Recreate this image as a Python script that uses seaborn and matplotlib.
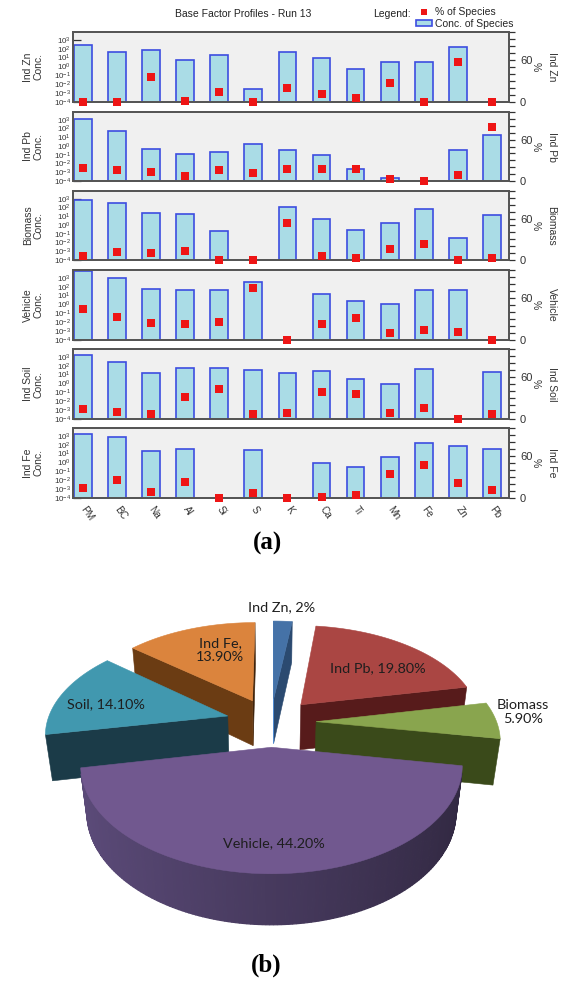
import numpy as np
import pandas as pd
import matplotlib
matplotlib.use("Agg")
import matplotlib.pyplot as plt
from matplotlib.patches import Polygon, Patch
from matplotlib.lines import Line2D
from matplotlib.ticker import LogLocator, NullLocator, MultipleLocator, FixedLocator, LogFormatterSciNotation
import seaborn as sns

sns.set_style("white")
plt.rcParams["font.family"] = ["Liberation Sans", "DejaVu Sans"]

# ---------------------------------------------------------------- data
SPECIES = ["PM", "BC", "Na", "Al", "Si", "S", "K", "Ca", "Ti", "Mn", "Fe", "Zn", "Pb"]
FACTORS = ["Ind Zn", "Ind Pb", "Biomass", "Vehicle", "Ind Soil", "Ind Fe"]
nan = np.nan

# concentration of species per factor (NaN = species absent from the profile)
conc_ind_zn = [260, 41, 70, 5.0, 19, 0.0028, 38, 9.2, 0.55, 3.0, 3.5, 170, nan]
conc_ind_pb = [1150, 49, 0.50, 0.12, 0.23, 1.7, 0.39, 0.10, 0.0022, 0.00022, nan, 0.32, 17]
conc_biomass = [760, 350, 25, 20, 0.23, nan, 100, 4.9, 0.28, 1.7, 72, 0.037, 12.7]
conc_vehicle = [5600, 910, 57, 40, 40, 350, nan, 17, 2.7, 1.26, 48, 40, nan]
conc_ind_soil = [1530, 270, 15.5, 52, 52, 34, 14, 28, 3.0, 0.89, 44, nan, 22]
conc_ind_fe = [1820, 770, 22, 37, nan, 28, nan, 0.97, 0.34, 4.2, 160, 68, 31]

# percentage of each species apportioned to the factor
pct_ind_zn = [0, 0, 35, 1, 14.6, 0, 20.4, 11.2, 5.3, 27.2, 0, 57, 0]
pct_ind_pb = [18.8, 15.5, 13, 7.2, 15.5, 12, 17, 17.9, 17.9, 2.9, 0, 9.2, 78.7]
pct_biomass = [5.7, 11.5, 10, 12.4, 0, 0, 53.6, 5.7, 3.3, 16.3, 22.5, 0, 3.3]
pct_vehicle = [44.3, 32.9, 24.3, 22.4, 25.2, 73.8, 0, 22.4, 31, 10, 14.3, 11, 0]
pct_ind_soil = [13.8, 10, 6.7, 31, 42.4, 6.7, 8.1, 39, 35.7, 8.1, 15.2, 0, 6.7]
pct_ind_fe = [14.3, 26.2, 9, 22.9, 0, 6.7, 0, 1.4, 3.8, 34.3, 47.6, 21.9, 11]

CONC = [conc_ind_zn, conc_ind_pb, conc_biomass, conc_vehicle, conc_ind_soil, conc_ind_fe]
PCT = [pct_ind_zn, pct_ind_pb, pct_biomass, pct_vehicle, pct_ind_soil, pct_ind_fe]

# source contributions for the pie
PIE_SOURCES = ["Ind Zn", "Ind Pb", "Biomass", "Vehicle", "Soil", "Ind Fe"]
PIE_SHARES = [2.0, 19.8, 5.9, 44.2, 14.1, 13.9]
PIE_DECIMALS = [0, 2, 2, 2, 2, 2]

# ---------------------------------------------------------------- figure
W, H = 568, 981
fig = plt.figure(figsize=(W / 100, H / 100), dpi=100)

BAR_FACE = "#aadce6"
BAR_EDGE = "#3d4de0"
MARK_RED = "#ee1515"
FRAME = "#555555"
INK = "#333333"

PANEL_LEFT, PANEL_RIGHT = 73, 509
PANEL_ROWS = [(32, 102), (112, 181), (191, 260), (270, 340), (349, 419), (428, 498)]


def px_axes(left, top, right, bottom, **kw):
    return fig.add_axes([left / W, 1 - bottom / H, (right - left) / W, (bottom - top) / H], **kw)


for k, (factor, conc, pct) in enumerate(zip(FACTORS, CONC, PCT)):
    top, bottom = PANEL_ROWS[k]
    ax = px_axes(PANEL_LEFT, top, PANEL_RIGHT, bottom)
    ax.set_facecolor("#f0f0f0")
    ax.set_yscale("log")
    df = pd.DataFrame({"species": SPECIES, "conc": conc, "pct": pct})
    sns.barplot(data=df.dropna(subset=["conc"]), x="species", y="conc", order=SPECIES,
                ax=ax, width=0.52, color=BAR_FACE, edgecolor=BAR_EDGE, linewidth=1.2,
                saturation=1, errorbar=None)

    ax2 = ax.twinx()
    sns.stripplot(data=df, x="species", y="pct", order=SPECIES, ax=ax2, jitter=False,
                  marker="s", size=5.8, color=MARK_RED, linewidth=0, clip_on=False, zorder=5)

    ax.set_ylim(1e-4, 10 ** 3.88)
    ax2.set_ylim(0, 100)
    ax.set_xlim(-0.29, 12.5)

    # left: log concentration axis
    ax.yaxis.set_major_locator(LogLocator(base=10, numticks=20))
    ax.yaxis.set_minor_locator(NullLocator())
    ax.yaxis.set_major_formatter(LogFormatterSciNotation())
    ax.tick_params(axis="y", which="major", direction="in", length=6, width=0.9,
                   colors=INK, labelsize=5.8, pad=1.5)
    ax.set_ylabel(f"{factor}\nConc.", fontsize=7.5, color=INK, labelpad=7, linespacing=1.15)

    # right: percentage axis
    ax2.yaxis.set_major_locator(FixedLocator([0, 60]))
    ax2.yaxis.set_minor_locator(MultipleLocator(10))
    ax2.tick_params(axis="y", which="major", direction="out", length=4, width=0.9,
                    colors=INK, labelsize=8, pad=4)
    ax2.tick_params(axis="y", which="minor", direction="out", length=4, width=0.9, colors=INK)
    ax2.set_ylabel(f"{factor}\n%", rotation=270, fontsize=7.5, color=INK,
                   labelpad=8, linespacing=1.75, va="center")

    for a in (ax, ax2):
        for sp in a.spines.values():
            sp.set_color(FRAME)
            sp.set_linewidth(1.3)
    ax.set_xlabel("")

    if k < len(FACTORS) - 1:
        ax.tick_params(axis="x", length=0, labelbottom=False)
    else:
        ax.tick_params(axis="x", direction="out", length=4, width=0.9, colors=INK,
                       labelsize=7.2, pad=3)
        for lab in ax.get_xticklabels():
            lab.set_rotation(-55)
            lab.set_ha("left")
            lab.set_va("center")
            lab.set_rotation_mode("anchor")

    if k == 0:
        bar_handle = Patch(facecolor=BAR_FACE, edgecolor=BAR_EDGE, linewidth=1.2)
        mark_handle = Line2D([], [], marker="s", linestyle="none", markersize=5,
                             markerfacecolor=MARK_RED, markeredgewidth=0)

# header: title and legend
fig.text(243 / W, 1 - 14 / H, "Base Factor Profiles - Run 13", ha="center", va="center",
         fontsize=7.5, color="#222222")
fig.text(373 / W, 1 - 14 / H, "Legend:", ha="left", va="center", fontsize=7.5, color="#222222")
fig.legend(handles=[mark_handle, bar_handle], labels=["% of Species", "Conc. of Species"],
           loc="upper left", bbox_to_anchor=(416 / W, 1 - 7 / H), frameon=False,
           fontsize=7.5, handlelength=1.5, handleheight=0.55, handletextpad=0.3,
           labelspacing=0.15, borderpad=0, borderaxespad=0)

# ---------------------------------------------------------------- 3D exploded pie
pie_ax = fig.add_axes([0, 0, 1, 1], zorder=-1)
pie_ax.set_xlim(0, W)
pie_ax.set_ylim(H, 0)
pie_ax.axis("off")

TOP_COLORS = ["#4572a7", "#aa4643", "#89a54e", "#71588f", "#4198af", "#db843d"]
SIDE_COLORS = ["#3d6aa0", "#5c1d1d", "#374619", "#473a5e", "#1d3f4c", "#5a3210"]

ELEV = np.deg2rad(32.5)
CA, SA = np.cos(ELEV), np.sin(ELEV)
DIST, FOCAL = 5.25, 948.0
CX, CY = 271.0, 722.0
THICK, EXPLODE = 0.31, 0.25
CAM = np.array([0.0, DIST * SA, -DIST * CA])


def project(pts):
    pts = np.asarray(pts, float)
    X, Y, Z = pts[:, 0], pts[:, 1], pts[:, 2]
    yc = Y * CA + Z * SA
    zc = DIST + Z * CA - Y * SA
    return np.column_stack([CX + FOCAL * X / zc, CY - FOCAL * yc / zc])


def shaded(color, nx):
    rgb = np.array(matplotlib.colors.to_rgb(color)) * (1.0 - 0.3 * nx)
    return np.clip(rgb, 0, 1)


def face(pts, color, z, lw=0.4):
    pie_ax.add_patch(Polygon(project(pts), closed=True, facecolor=color, edgecolor=color,
                             linewidth=lw, zorder=z))


total = sum(PIE_SHARES)
spans = []
start = 90.0
for share in PIE_SHARES:
    sweep = 360.0 * share / total
    spans.append((start - sweep, start))
    start -= sweep

mids = [np.deg2rad((a + b) / 2) for a, b in spans]
order = sorted(range(len(PIE_SHARES)), key=lambda i: -np.sin(mids[i]))

for rank, i in enumerate(order):
    t1, t2 = np.deg2rad(spans[i])
    m = mids[i]
    ox, oz = EXPLODE * np.cos(m), EXPLODE * np.sin(m)
    ts = np.linspace(t1, t2, max(int(np.degrees(t2 - t1) / 1.0), 4))
    z = rank * 10

    # radial cut faces
    for t, nrm in ((t1, np.array([np.sin(t1), 0, -np.cos(t1)])),
                   (t2, np.array([-np.sin(t2), 0, np.cos(t2)]))):
        px_, pz_ = ox + np.cos(t), oz + np.sin(t)
        centre = np.array([(ox + px_) / 2, -THICK / 2, (oz + pz_) / 2])
        if np.dot(nrm, CAM - centre) > 0:
            face([(ox, 0, oz), (px_, 0, pz_), (px_, -THICK, pz_), (ox, -THICK, oz)],
                 shaded(SIDE_COLORS[i], nrm[0]), z + 1)

    # outer wall, built from narrow strips so the shading follows the curve
    for a, b in zip(ts[:-1], ts[1:]):
        tm = (a + b) / 2
        nrm = np.array([np.cos(tm), 0, np.sin(tm)])
        centre = np.array([ox + np.cos(tm), -THICK / 2, oz + np.sin(tm)])
        if np.dot(nrm, CAM - centre) > 0:
            face([(ox + np.cos(a), 0, oz + np.sin(a)), (ox + np.cos(b), 0, oz + np.sin(b)),
                  (ox + np.cos(b), -THICK, oz + np.sin(b)), (ox + np.cos(a), -THICK, oz + np.sin(a))],
                 shaded(SIDE_COLORS[i], nrm[0]), z + 2, lw=0.9)

    # top face
    rim = [(ox + np.cos(t), 0, oz + np.sin(t)) for t in ts]
    face([(ox, 0, oz)] + rim, TOP_COLORS[i], z + 3)

# slice labels
LABEL_POS = {"Ind Zn": (282, 607, "{n}, {v}"), "Ind Pb": (378, 668, "{n}, {v}"),
             "Biomass": (523, 712, "{n}\n{v}"), "Vehicle": (274, 843, "{n}, {v}"),
             "Soil": (106, 704, "{n}, {v}"), "Ind Fe": (220, 650, "{n},\n{v}")}
for name, share, dec in zip(PIE_SOURCES, PIE_SHARES, PIE_DECIMALS):
    x, y, fmt = LABEL_POS[name]
    txt = fmt.format(n=name, v=f"{share:.{dec}f}%")
    pie_ax.text(x, y, txt, ha="center", va="center", fontsize=10.4, color="#1e1e1e",
                family=["Lato", "DejaVu Sans"], linespacing=1.2, zorder=100)

pie_ax.text(267, 543, "(a)", ha="center", va="center", fontsize=18, fontweight="bold",
            family=["Liberation Serif", "DejaVu Serif"], color="black")
pie_ax.text(266, 965, "(b)", ha="center", va="center", fontsize=18, fontweight="bold",
            family=["Liberation Serif", "DejaVu Serif"], color="black")

fig.savefig("out.png", dpi=100)
